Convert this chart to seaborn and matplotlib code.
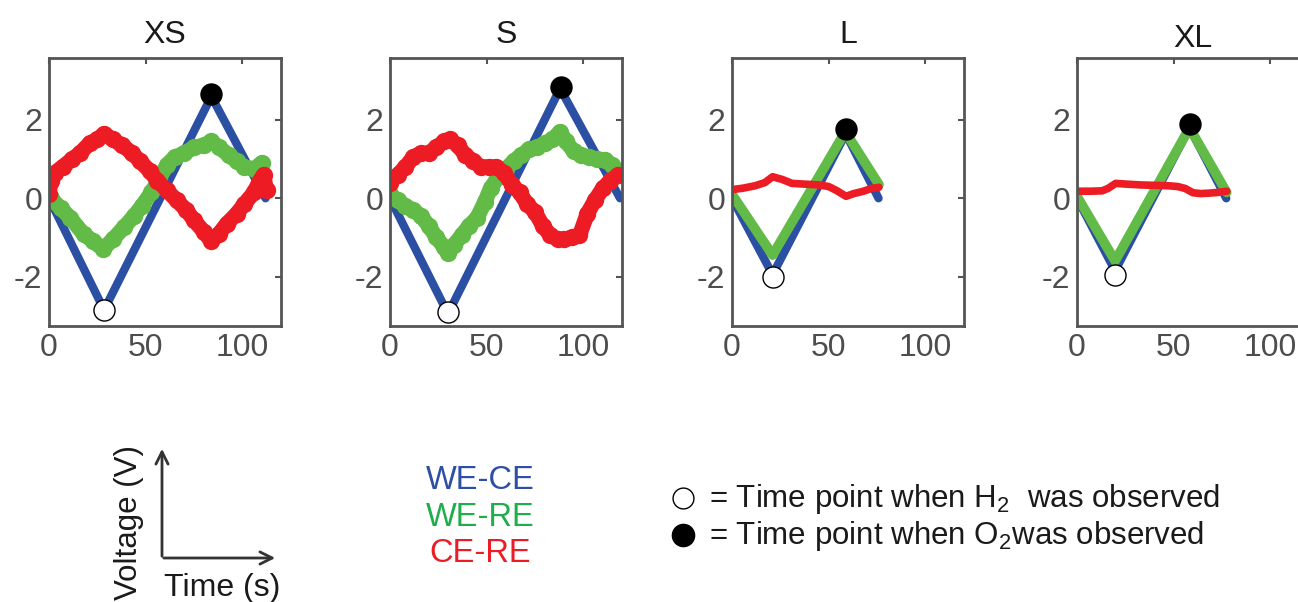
import matplotlib
matplotlib.use("Agg")
import matplotlib.pyplot as plt
import seaborn as sns
from matplotlib.lines import Line2D
from matplotlib.patches import FancyArrowPatch

# valori (tempo in s, tensione in V)
panel_names = ["XS", "S", "L", "XL"]

# XS
xs_t_wece = [0, 28.5, 84, 112]
xs_wece = [0, -2.85, 2.6, 0]
xs_t_were = [1, 6, 11, 18, 23, 28, 33, 39, 44, 48, 53, 57, 61, 65, 70, 75, 80, 84, 88, 93, 97, 101, 106, 110]
xs_were = [0.0, -0.25, -0.5, -0.92, -1.1, -1.3, -1.05, -0.73, -0.45, -0.2, 0.15, 0.5, 0.85, 1.05, 1.15, 1.3, 1.35, 1.45, 1.3, 1.1, 0.95, 0.8, 0.75, 0.9]
xs_t_cere = [0, 1, 3, 7, 12, 16, 21, 25, 28.5, 33, 38, 43, 47, 52, 56, 61, 66, 71, 75, 80, 84, 88, 92, 97, 101, 106, 109, 111, 112.5]
xs_cere = [0.1, 0.45, 0.65, 0.8, 1.0, 1.15, 1.4, 1.5, 1.65, 1.5, 1.35, 1.15, 0.95, 0.7, 0.45, 0.2, -0.05, -0.3, -0.56, -0.85, -1.1, -0.9, -0.65, -0.4, -0.15, 0.15, 0.45, 0.6, 0.2]

# S
s_t_wece = [0, 30, 88, 119]
s_wece = [0, -2.95, 2.8, 0]
s_t_were = [0, 4, 8, 12, 16, 20, 24, 28, 30, 33, 37, 41, 45, 49, 52, 56, 60, 64, 68, 72, 76, 80, 84, 88, 91, 95, 99, 103, 107, 111, 115, 118]
s_were = [0.1, -0.05, -0.2, -0.3, -0.45, -0.7, -1.0, -1.25, -1.4, -1.2, -0.95, -0.7, -0.5, -0.1, 0.25, 0.55, 0.75, 0.95, 1.1, 1.25, 1.3, 1.4, 1.5, 1.7, 1.45, 1.2, 1.1, 1.05, 1.0, 0.98, 0.85, 0.7]
s_t_cere = [0, 4, 8, 12, 16, 20, 24, 28, 31, 35, 39, 43, 47, 51, 55, 59, 63, 67, 71, 75, 79, 83, 87, 90, 94, 98, 102, 106, 110, 114, 118]
s_cere = [0.4, 0.6, 0.8, 1.05, 1.15, 1.15, 1.3, 1.45, 1.5, 1.35, 1.1, 0.95, 0.8, 0.8, 0.8, 0.65, 0.35, 0.15, -0.15, -0.35, -0.7, -0.95, -1.05, -1.05, -1.0, -0.95, -0.4, -0.05, 0.25, 0.45, 0.6]

# L
l_t_wece = [0, 21, 58.8, 75.8]
l_wece = [0, -1.95, 1.65, 0]
l_t_were = [0, 21, 58.6, 76]
l_were = [0.1, -1.45, 1.7, 0.35]
l_t_cere = [0, 6, 12, 17, 21, 26, 31, 38, 45, 50, 54, 59, 63, 68, 72, 76]
l_cere = [0.22, 0.26, 0.32, 0.4, 0.55, 0.48, 0.38, 0.36, 0.34, 0.3, 0.2, 0.05, 0.12, 0.18, 0.25, 0.28]

# XL
xl_t_wece = [0, 19.7, 58.2, 77.2]
xl_wece = [0, -1.85, 1.8, 0]
xl_t_were = [0, 19.7, 58.2, 77.4]
xl_were = [0.05, -1.6, 1.8, 0.15]
xl_t_cere = [0, 7, 13, 16, 20, 26, 33, 40, 47, 52, 56, 60, 64, 68, 73, 77.5]
xl_cere = [0.18, 0.18, 0.19, 0.25, 0.38, 0.36, 0.34, 0.33, 0.32, 0.3, 0.25, 0.14, 0.12, 0.13, 0.15, 0.18]

# punti in cui si osservano H2 (vuoto) e O2 (pieno)
h2_time = [28.5, 30, 21, 19.7]
h2_volt = [-2.86, -2.9, -2.0, -1.95]
o2_time = [84, 88.5, 58.8, 58.2]
o2_volt = [2.65, 2.85, 1.76, 1.9]

series = [
    (xs_t_wece, xs_wece, xs_t_were, xs_were, xs_t_cere, xs_cere),
    (s_t_wece, s_wece, s_t_were, s_were, s_t_cere, s_cere),
    (l_t_wece, l_wece, l_t_were, l_were, l_t_cere, l_cere),
    (xl_t_wece, xl_wece, xl_t_were, xl_were, xl_t_cere, xl_cere),
]

BLU = "#2b4fa2"
VERDE = "#62bb46"
ROSSO = "#ed1c24"
GRIGIO = "#555555"

sns.set_theme(style="white")
plt.rcParams["font.family"] = ["Liberation Sans", "DejaVu Sans"]
plt.rcParams["axes.unicode_minus"] = False
plt.rcParams["mathtext.fontset"] = "custom"
plt.rcParams["mathtext.rm"] = "Liberation Sans"
plt.rcParams["mathtext.it"] = "Liberation Sans:italic"
plt.rcParams["mathtext.default"] = "regular"

W, H = 1298, 602
fig = plt.figure(figsize=(W / 100, H / 100), dpi=100)


def fx(x):
    return x / W


def fy(y):
    return 1 - y / H


lefts = [49, 390, 732, 1077]
for i, name in enumerate(panel_names):
    ax = fig.add_axes([fx(lefts[i]), fy(326), 232 / W, 268 / H])
    t_b, v_b, t_g, v_g, t_r, v_r = series[i]
    rumoroso = i < 2  # XS e S hanno tracce spesse e rumorose

    sns.lineplot(x=t_b, y=v_b, ax=ax, color=BLU, linewidth=6, sort=False,
                 estimator=None, solid_capstyle="round", solid_joinstyle="round")
    if rumoroso:
        sns.lineplot(x=t_g, y=v_g, ax=ax, color=VERDE, linewidth=11, sort=False, estimator=None,
                     marker="o", markersize=12.5, markeredgewidth=0,
                     solid_capstyle="round", solid_joinstyle="round")
        sns.lineplot(x=t_r, y=v_r, ax=ax, color=ROSSO, linewidth=11, sort=False, estimator=None,
                     marker="o", markersize=12.5, markeredgewidth=0,
                     solid_capstyle="round", solid_joinstyle="round")
    else:
        sns.lineplot(x=t_g, y=v_g, ax=ax, color=VERDE, linewidth=7, sort=False, estimator=None,
                     solid_capstyle="round", solid_joinstyle="round")
        sns.lineplot(x=t_r, y=v_r, ax=ax, color=ROSSO, linewidth=5.5, sort=False, estimator=None,
                     solid_capstyle="round", solid_joinstyle="round")

    sns.scatterplot(x=[h2_time[i]], y=[h2_volt[i]], ax=ax, color="white", edgecolor="black",
                    s=230, linewidth=1, zorder=5)
    sns.scatterplot(x=[o2_time[i]], y=[o2_volt[i]], ax=ax, color="black", edgecolor="black",
                    s=260, linewidth=0, zorder=5)

    ax.set_xlim(0, 120)
    ax.set_ylim(-3.26, 3.58)
    ax.set_xticks([0, 50, 100])
    ax.set_yticks([-2, 0, 2])
    ax.set_xlabel("")
    ax.set_ylabel("")
    ax.tick_params(direction="in", length=4, width=1.5, color=GRIGIO, labelcolor="#4d4d4d",
                   labelsize=23, top=True, right=True, pad=5)
    for sp in ax.spines.values():
        sp.set_visible(True)
        sp.set_color(GRIGIO)
        sp.set_linewidth(2)
    ax.set_title(name, fontsize=23, color="#1a1a1a", pad=8 if name == "XL" else 11)

# schizzo assi in basso a sinistra
fig.add_artist(FancyArrowPatch((fx(162), fy(559)), (fx(162), fy(446)), transform=fig.transFigure,
                               arrowstyle="->", mutation_scale=22, lw=2, color="#333333"))
fig.add_artist(FancyArrowPatch((fx(161), fy(558)), (fx(278), fy(558)), transform=fig.transFigure,
                               arrowstyle="->", mutation_scale=22, lw=2, color="#333333"))
fig.text(fx(129), fy(522), "Voltage (V)", rotation=90, ha="center", va="center",
         fontsize=22.5, color="#1a1a1a")
fig.text(fx(164), fy(596), "Time (s)", ha="left", va="baseline", fontsize=23, color="#1a1a1a")

# etichette delle serie
fig.text(fx(480), fy(489), "WE-CE", ha="center", va="baseline", fontsize=23.5, color="#2e4fa3")
fig.text(fx(480), fy(526), "WE-RE", ha="center", va="baseline", fontsize=23.5, color="#1fae4b")
fig.text(fx(480), fy(562), "CE-RE", ha="center", va="baseline", fontsize=23.5, color="#ed1c24")

# legenda dei marcatori
fig.add_artist(Line2D([fx(683)], [fy(498)], transform=fig.transFigure, marker="o", markersize=15,
                      markerfacecolor="white", markeredgecolor="black", markeredgewidth=1, linestyle="none"))
fig.add_artist(Line2D([fx(683)], [fy(535)], transform=fig.transFigure, marker="o", markersize=16,
                      markerfacecolor="black", markeredgecolor="black", linestyle="none"))
fig.text(fx(709), fy(507), "= Time point when H$_2$  was observed", ha="left", va="baseline",
         fontsize=22.5, color="#1a1a1a")
fig.text(fx(709), fy(544), "= Time point when O$_2$was observed", ha="left", va="baseline",
         fontsize=22.5, color="#1a1a1a")

fig.savefig("out.png", dpi=100)
